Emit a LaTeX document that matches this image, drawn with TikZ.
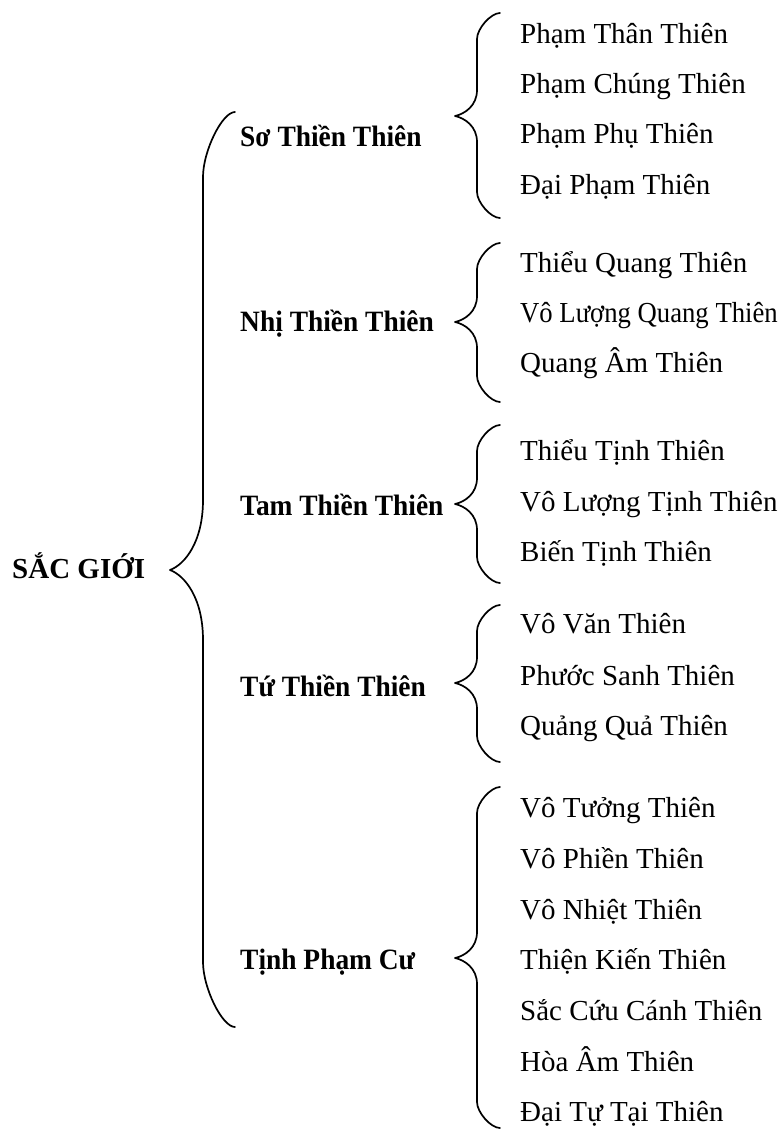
\documentclass[tikz,border=0pt]{standalone}
\usepackage{fontspec}
\setmainfont{Liberation Serif}
\newfontfamily\labfont{Liberation Serif}[FakeStretch=0.93]
% #1 end x, #2 vertical x, #3 tip x, #4 top y, #5 tip y, #6 bottom y, #7 end radius, #8 middle span
\newcommand{\wordbrace}[8]{%
  \draw[bracestyle] (#1,#4)
    .. controls ({#2+0.6*(#1-#2)},#4) and (#2,{#4+0.6*#7}) .. (#2,{#4+#7})
    -- (#2,{#5-#8})
    .. controls (#2,{#5-0.4*#8}) and ({#3+0.45*(#2-#3)},{#5-0.08*#8}) .. (#3,#5)
    .. controls ({#3+0.45*(#2-#3)},{#5+0.08*#8}) and (#2,{#5+0.4*#8}) .. (#2,{#5+#8})
    -- (#2,{#6-#7})
    .. controls (#2,{#6-0.6*#7}) and ({#2+0.6*(#1-#2)},#6) .. (#1,#6);}
\begin{document}
\begin{tikzpicture}[x=1pt,y=-1pt,
  bracestyle/.style={line width=1.7pt,line cap=round,line join=round},
  item/.style={anchor=base west,inner sep=0pt,font=\fontsize{29}{35}\selectfont},
  lab/.style={anchor=base west,inner sep=0pt,font=\fontsize{29.5}{35}\selectfont\labfont\bfseries},
  root/.style={anchor=base west,inner sep=0pt,font=\fontsize{29}{35}\selectfont\bfseries}]
\useasboundingbox (0,0) rectangle (782,1130);

% root
\node[root] (root) at (12,578) {SẮC GIỚI};
\wordbrace{235}{203}{170}{112}{570}{1027}{65}{70}

% level 2 labels
\node[lab] (so)   at (240,146) {Sơ Thiền Thiên};
\node[lab] (nhi)  at (240,331) {Nhị Thiền Thiên};
\node[lab] (tam)  at (240,515) {Tam Thiền Thiên};
\node[lab] (tu)   at (240,696) {Tứ Thiền Thiên};
\node[lab] (tinh) at (240,969) {Tịnh Phạm Cư};

% small braces
\wordbrace{500}{477}{455}{13}{116}{218}{26}{26}
\wordbrace{500}{477}{455}{243}{322}{402}{26}{26}
\wordbrace{500}{477}{455}{425}{504}{583}{26}{26}
\wordbrace{500}{477}{455}{605}{683}{762}{26}{26}
\wordbrace{500}{477}{455}{787}{958}{1128}{26}{26}

% group 1
\node[item] (a1) at (520,43)  {Phạm Thân Thiên};
\node[item] (a2) at (520,93)  {Phạm Chúng Thiên};
\node[item] (a3) at (520,143) {Phạm Phụ Thiên};
\node[item] (a4) at (520,194) {Đại Phạm Thiên};
% group 2
\node[item] (b1) at (520,272) {Thiểu Quang Thiên};
\node[item] (b2) at (520,322) {\scalebox{0.92}[1]{Vô Lượng Quang Thiên}};
\node[item] (b3) at (520,372) {Quang Âm Thiên};
% group 3
\node[item] (c1) at (520,460) {Thiểu Tịnh Thiên};
\node[item] (c2) at (520,511) {Vô Lượng Tịnh Thiên};
\node[item] (c3) at (520,561) {Biến Tịnh Thiên};
% group 4
\node[item] (d1) at (520,633) {Vô Văn Thiên};
\node[item] (d2) at (520,685) {Phước Sanh Thiên};
\node[item] (d3) at (520,735) {Quảng Quả Thiên};
% group 5
\node[item] (e1) at (520,817)  {Vô Tưởng Thiên};
\node[item] (e2) at (520,868)  {Vô Phiền Thiên};
\node[item] (e3) at (520,919)  {Vô Nhiệt Thiên};
\node[item] (e4) at (520,969)  {Thiện Kiến Thiên};
\node[item] (e5) at (520,1020) {Sắc Cứu Cánh Thiên};
\node[item] (e6) at (520,1071) {Hòa Âm Thiên};
\node[item] (e7) at (520,1121) {Đại Tự Tại Thiên};
\end{tikzpicture}
\end{document}
